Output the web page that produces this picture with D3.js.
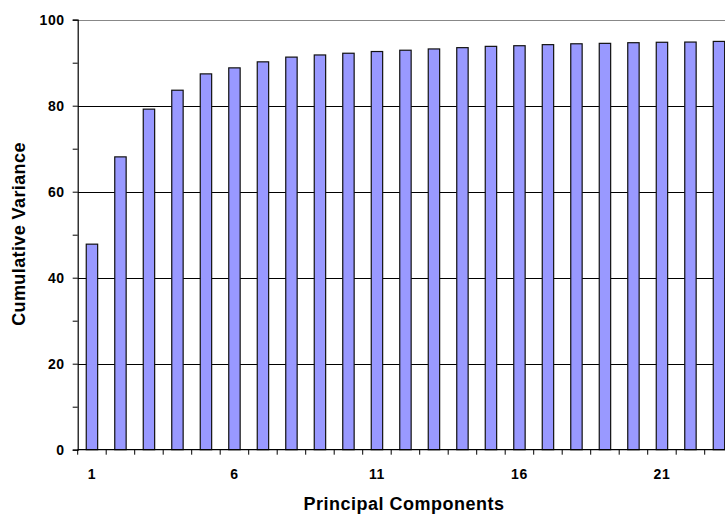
<!DOCTYPE html>
<html>
<head>
<meta charset="utf-8">
<script src="https://cdn.jsdelivr.net/npm/d3@7"></script>
<style>
  body { margin: 0; background: #fff; }
  text { font-family: "Liberation Sans", Arial, sans-serif; font-weight: bold; }
</style>
</head>
<body>
<svg width="725" height="515"></svg>
<script>
// components shown in the picture (the plot runs off the right edge)
var components = d3.range(1, 24);
var cumVariance = [47.8, 68.1, 79.2, 83.6, 87.4, 88.8, 90.2, 91.3, 91.8, 92.2,
                   92.6, 92.9, 93.2, 93.5, 93.8, 93.95, 94.2, 94.4, 94.5, 94.65,
                   94.75, 94.8, 94.95];
var yTicks = [0, 20, 40, 60, 80, 100];
var xLabels = [1, 6, 11, 16, 21];

var data = components.map((c, i) => ({comp: c, value: cumVariance[i]}));

const plotLeft = 77.7;
const plotTop = 19.7;
const plotBottom = 449.7;
const step = 28.5;

var svg = d3.select('svg');

const xScale = d3.scaleBand()
    .domain(components)
    .range([plotLeft, plotLeft + step * components.length])
    .paddingInner(0.6)
    .paddingOuter(0.3);

const yScale = d3.scaleLinear()
    .domain([0, 100])
    .range([plotBottom, plotTop]);

// gridlines
svg.append('g')
    .selectAll('line')
    .data(yTicks.slice(1))
    .enter()
    .append('line')
        .attr('x1', plotLeft)
        .attr('x2', 725)
        .attr('y1', d => Math.round(yScale(d)) + 0.5)
        .attr('y2', d => Math.round(yScale(d)) + 0.5)
        .attr('stroke', d => d == 100 ? '#888' : '#000')
        .attr('stroke-width', 1);

// bars
svg.append('g')
    .selectAll('rect')
    .data(data)
    .enter()
    .append('rect')
        .attr('x', d => xScale(d.comp))
        .attr('y', d => yScale(d.value))
        .attr('width', xScale.bandwidth())
        .attr('height', d => plotBottom - yScale(d.value))
        .attr('fill', '#9999ff')
        .attr('stroke', '#111')
        .attr('stroke-width', 1.2);

// y axis
var yAxis = svg.append('g')
    .attr('transform', `translate(${plotLeft}, 0)`)
    .call(d3.axisLeft(yScale)
        .tickValues(d3.range(0, 101, 10))
        .tickSize(5)
        .tickFormat(d => d % 20 == 0 ? d : ''));
yAxis.select('.domain').attr('stroke', '#000').attr('stroke-width', 1.2);
yAxis.selectAll('.tick line').attr('stroke', '#000');
yAxis.selectAll('.tick text')
    .attr('x', -13)
    .attr('font-size', 14)
    .attr('letter-spacing', 0.6)
    .attr('font-family', '"Liberation Sans", Arial, sans-serif')
    .attr('font-weight', 'bold');

// x axis
var bounds = d3.range(0, components.length + 1);
var xAxis = svg.append('g')
    .attr('transform', `translate(0, ${plotBottom})`);
xAxis.append('line')
    .attr('x1', plotLeft)
    .attr('x2', 725)
    .attr('stroke', '#000')
    .attr('stroke-width', 1.2);
xAxis.selectAll('line.tk')
    .data(bounds)
    .enter()
    .append('line')
        .attr('class', 'tk')
        .attr('x1', d => plotLeft + d * step)
        .attr('x2', d => plotLeft + d * step)
        .attr('y1', 0)
        .attr('y2', 5)
        .attr('stroke', '#000');
xAxis.selectAll('text')
    .data(xLabels)
    .enter()
    .append('text')
        .attr('x', d => xScale(d) + xScale.bandwidth() / 2)
        .attr('y', 29.5)
        .attr('text-anchor', 'middle')
        .attr('font-size', 14)
        .attr('letter-spacing', 0.6)
        .text(d => d);

// axis titles
svg.append('text')
    .attr('x', 404)
    .attr('y', 510)
    .attr('text-anchor', 'middle')
    .attr('font-size', 18)
    .attr('letter-spacing', 0.5)
    .text('Principal Components');

svg.append('text')
    .attr('transform', 'translate(25, 234) rotate(-90)')
    .attr('text-anchor', 'middle')
    .attr('font-size', 18)
    .attr('letter-spacing', 0.4)
    .text('Cumulative Variance');
</script>
</body>
</html>
